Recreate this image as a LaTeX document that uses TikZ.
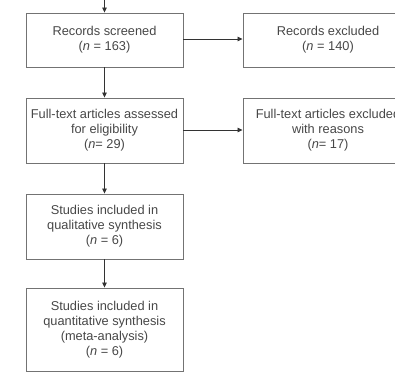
\documentclass[tikz,border=0pt]{standalone}
\usepackage{fontspec}
\setmainfont{Liberation Sans}
\usetikzlibrary{arrows.meta}
\begin{document}
\begin{tikzpicture}[x=1bp,y=-1bp,
  box/.style={draw=black!55,line width=0.9bp,minimum width=157bp,align=center,inner sep=0pt,
    text=black!72,font=\fontsize{12.8bp}{15bp}\selectfont},
  arr/.style={draw=black!80,line width=0.8bp,-{Triangle[length=5bp,width=4.5bp]}}]
\useasboundingbox (0,0) rectangle (395,375);
\clip (0,0) rectangle (395,375);
\node[box,minimum height=54bp] (b1) at (104.5,40) {Records screened\\(\textit{n} = 163)};
\node[box,minimum width=170bp,minimum height=54bp] (b2) at (328,40) {Records excluded\\(\textit{n} = 140)};
\node[box,minimum height=65bp] (b3) at (104.5,130.5) {Full-text articles assessed\\for eligibility\\(\textit{n}= 29)};
\node[box,minimum width=170bp,minimum height=65bp] (b4) at (328,130.5) {Full-text articles excluded\\with reasons\\(\textit{n}= 17)};
\node[box,minimum height=65bp] (b5) at (104.5,226.5) {Studies included in\\qualitative synthesis\\(\textit{n} = 6)};
\node[box,minimum height=83bp] (b6) at (104.5,329.5) {Studies included in\\quantitative synthesis\\(meta-analysis)\\(\textit{n} = 6)};
\coordinate (top) at (104.5,-2);
\draw[arr] (top) -- (b1.north);
\draw[arr] (b1.south) -- (b3.north);
\draw[arr] (b3.south) -- (b5.north);
\draw[arr] (b5.south) -- (b6.north);
\draw[arr] (b1.east |- 0,39) -- (b2.west |- 0,39);
\draw[arr] (b3.east |- 0,130) -- (b4.west |- 0,130);
\end{tikzpicture}
\end{document}
